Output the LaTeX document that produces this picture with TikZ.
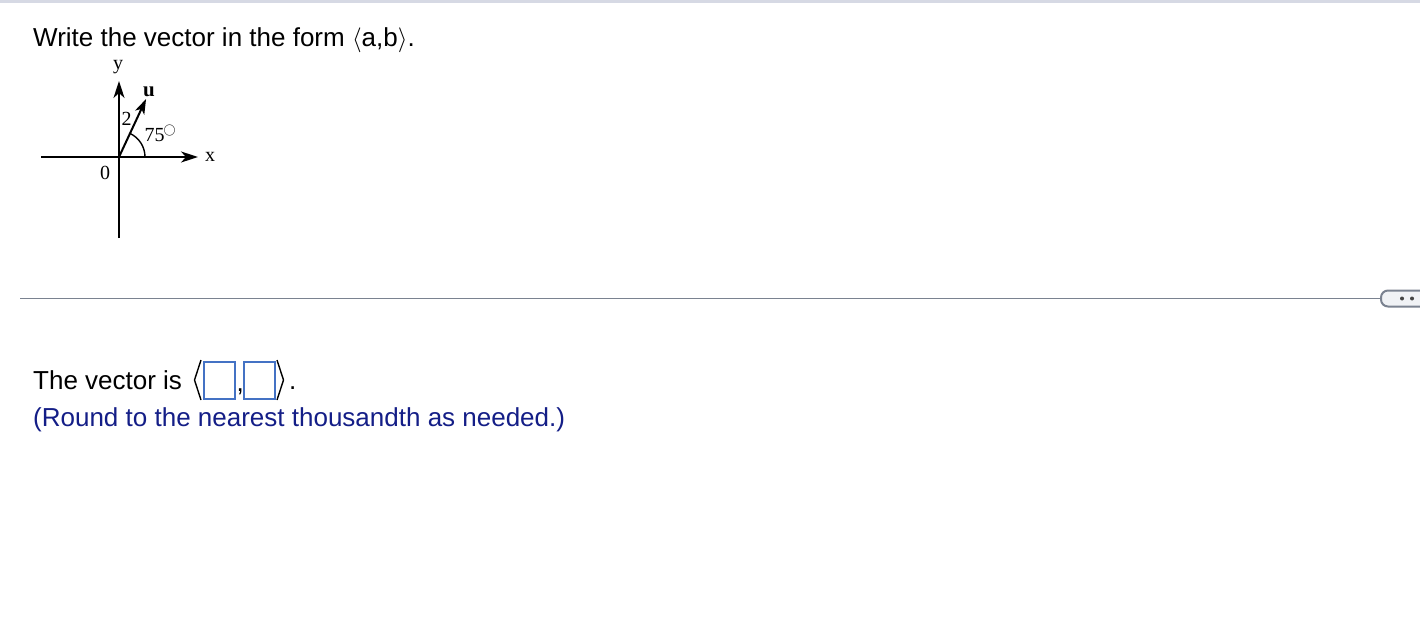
\documentclass[tikz,border=0pt]{standalone}
\usepackage{fontspec}
\setmainfont{Liberation Sans}
\newfontfamily\gserif{Liberation Serif}
\usetikzlibrary{arrows.meta}
\definecolor{topline}{RGB}{214,217,228}
\definecolor{sepgray}{RGB}{122,130,144}
\definecolor{boxfill}{RGB}{240,242,245}
\definecolor{ansblue}{RGB}{68,114,196}
\definecolor{navytext}{RGB}{20,30,135}
\definecolor{dotgray}{RGB}{70,70,70}
\tikzset{
  maintext/.style={anchor=base west, inner sep=0pt, font=\fontsize{26}{30}\selectfont},
  glabel/.style={anchor=base, inner sep=0pt, font=\gserif\fontsize{20}{24}\selectfont},
  axisline/.style={line width=2pt, -{Stealth[length=17pt,width=11pt,inset=5pt]}},
  vecline/.style={line width=2pt, -{Stealth[length=15pt,width=10pt,inset=4pt]}},
  ansbox/.style={draw=ansblue, line width=2pt, minimum width=31pt, minimum height=37pt, inner sep=0pt},
  bracket/.style={line width=1.4pt, line join=miter}
}
\begin{document}
\begin{tikzpicture}[x=1pt,y=-1pt]
\useasboundingbox (0,0) rectangle (1420,640);
\fill[white] (0,0) rectangle (1420,640);
\fill[topline] (0,0) rectangle (1420,2.5);

% title
\node[maintext] (title) at (33,46) {Write the vector in the form $\langle$a,b$\rangle$.};

% graph
\coordinate (O) at (119,157);
\coordinate (xl) at (41,157);
\coordinate (xr) at (198,157);
\coordinate (yb) at (119,238);
\coordinate (yt) at (119,81);
\draw[line width=2pt] (xl) -- (O);
\draw[axisline] (O) -- (xr);
\draw[line width=2pt] (yb) -- (O);
\draw[axisline] (O) -- (yt);
\path (O) ++(-65:64) coordinate (utip);
\draw[vecline] (O) -- (utip);
\draw[line width=1.4pt] (O) ++(26,0) arc[start angle=0, end angle=-65, radius=26];

\node[glabel] (ylab) at (118,69) {y};
\node[glabel, font=\gserif\bfseries\fontsize{21}{24}\selectfont] (ulab) at (149,96) {u};
\node[glabel] (twolab) at (126.5,125) {2};
\node[glabel, anchor=base west] (anglab) at (144.5,141) {75\kern-1pt\raisebox{7.5pt}{\fontsize{12.5}{12}\selectfont$\bigcirc$}};
\node[glabel] (xlab) at (210,161) {x};
\node[glabel] (zerolab) at (105,179) {0};

% separator
\coordinate (sepl) at (20,298.5);
\coordinate (sepr) at (1381,298.5);
\draw[sepgray, line width=1.6pt] (sepl) -- (sepr);
\draw[sepgray, line width=2pt, fill=boxfill, rounded corners=7pt] (1440,290.5) -- (1381,290.5) -- (1381,306.5) -- (1440,306.5);
\fill[dotgray] (1402,298.5) circle (2pt);
\fill[dotgray] (1412,298.5) circle (2pt);

% answer line
\node[maintext] (vecis) at (33,389) {The vector is};
\draw[bracket] (201,360) -- (194.5,380) -- (201,400);
\node[ansbox] (boxa) at (219,380) {};
\node[maintext] (comma) at (236.5,391) {,};
\node[ansbox] (boxb) at (259.5,380) {};
\draw[bracket] (277,360) -- (283.5,380) -- (277,400);
\node[maintext] (period) at (289,389) {.};

\node[maintext, text=navytext] (round) at (33,426) {(Round to the nearest thousandth as needed.)};
\end{tikzpicture}
\end{document}
